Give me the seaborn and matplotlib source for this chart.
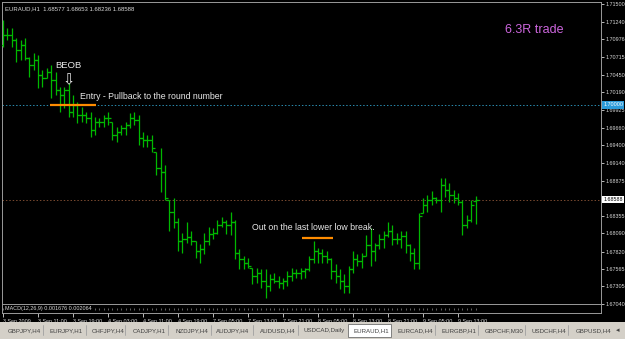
import numpy as np
import pandas as pd
import matplotlib
matplotlib.use("Agg")
import matplotlib.pyplot as plt
import matplotlib.transforms as mtransforms
from matplotlib.patches import Rectangle
import seaborn as sns

# ---------------- data ----------------
ohlc_title = "EURAUD,H1  1.68577 1.68653 1.68236 1.68588"

opens = [1.70890, 1.71039, 1.71039, 1.70964, 1.70815, 1.70890, 1.70696, 1.70592, 1.70666, 1.70443,
         1.70398, 1.70487, 1.70368, 1.70219, 1.70145, 1.70219, 1.69891, 1.69996, 1.69847, 1.69847,
         1.69802, 1.69623, 1.69742, 1.69742, 1.69802, 1.69742, 1.69549, 1.69593, 1.69653, 1.69698,
         1.69802, 1.69772, 1.69504, 1.69474, 1.69474, 1.69295, 1.69057, 1.68997, 1.68580, 1.68401,
         1.68252, 1.67984, 1.68014, 1.68029, 1.67984, 1.67835, 1.67865, 1.67984, 1.68088, 1.68103,
         1.68208, 1.68252, 1.68208, 1.68252, 1.67805, 1.67716, 1.67656, 1.67582, 1.67463, 1.67507,
         1.67388, 1.67314, 1.67418, 1.67388, 1.67358, 1.67388, 1.67463, 1.67507, 1.67507, 1.67537,
         1.67567, 1.67716, 1.67835, 1.67805, 1.67761, 1.67716, 1.67537, 1.67463, 1.67388, 1.67314,
         1.67567, 1.67716, 1.67686, 1.67761, 1.67910, 1.67835, 1.67910, 1.68014, 1.68059, 1.68133,
         1.68014, 1.68014, 1.68044, 1.67910, 1.67805, 1.67656, 1.68386, 1.68506, 1.68580, 1.68610,
         1.68580, 1.68804, 1.68729, 1.68655, 1.68610, 1.68550, 1.68208, 1.68282, 1.68577]
highs = [1.71262, 1.71143, 1.71143, 1.70994, 1.70964, 1.70994, 1.70711, 1.70770, 1.70741, 1.70517,
         1.70547, 1.70592, 1.70487, 1.70264, 1.70264, 1.70323, 1.70145, 1.70040, 1.69966, 1.69891,
         1.69891, 1.69817, 1.69802, 1.69847, 1.69891, 1.69742, 1.69668, 1.69698, 1.69742, 1.69876,
         1.69891, 1.69847, 1.69593, 1.69549, 1.69549, 1.69295, 1.69355, 1.69102, 1.68580, 1.68610,
         1.68312, 1.68103, 1.68252, 1.68133, 1.67984, 1.67939, 1.68103, 1.68178, 1.68163, 1.68282,
         1.68327, 1.68282, 1.68401, 1.68282, 1.67865, 1.67761, 1.67731, 1.67582, 1.67582, 1.67567,
         1.67567, 1.67492, 1.67507, 1.67463, 1.67433, 1.67537, 1.67582, 1.67567, 1.67582, 1.67582,
         1.67761, 1.67984, 1.67880, 1.67865, 1.67835, 1.67731, 1.67641, 1.67567, 1.67492, 1.67612,
         1.67835, 1.67790, 1.67805, 1.68059, 1.68163, 1.67954, 1.68088, 1.68133, 1.68252, 1.68208,
         1.68103, 1.68133, 1.68133, 1.67939, 1.67880, 1.68386, 1.68610, 1.68655, 1.68714, 1.68625,
         1.68908, 1.68908, 1.68833, 1.68729, 1.68684, 1.68580, 1.68357, 1.68580, 1.68653]
lows = [1.70860, 1.70964, 1.70860, 1.70636, 1.70666, 1.70666, 1.70413, 1.70517, 1.70249, 1.70264,
        1.70398, 1.70100, 1.70145, 1.69891, 1.69951, 1.69817, 1.69817, 1.69727, 1.69742, 1.69727,
        1.69519, 1.69549, 1.69668, 1.69668, 1.69698, 1.69474, 1.69444, 1.69549, 1.69549, 1.69653,
        1.69698, 1.69400, 1.69370, 1.69370, 1.69295, 1.68953, 1.68699, 1.68580, 1.68133, 1.68163,
        1.67835, 1.67805, 1.67954, 1.67910, 1.67731, 1.67656, 1.67790, 1.67910, 1.68014, 1.68088,
        1.68178, 1.68088, 1.68059, 1.67716, 1.67567, 1.67567, 1.67582, 1.67343, 1.67358, 1.67284,
        1.67135, 1.67239, 1.67358, 1.67284, 1.67269, 1.67314, 1.67388, 1.67433, 1.67418, 1.67433,
        1.67537, 1.67656, 1.67656, 1.67656, 1.67656, 1.67418, 1.67358, 1.67269, 1.67209, 1.67209,
        1.67507, 1.67612, 1.67582, 1.67761, 1.67612, 1.67686, 1.67865, 1.67880, 1.68029, 1.67910,
        1.67939, 1.67880, 1.67805, 1.67686, 1.67567, 1.67567, 1.68386, 1.68401, 1.68506, 1.68535,
        1.68401, 1.68625, 1.68550, 1.68535, 1.68506, 1.68059, 1.68163, 1.68252, 1.68236]
closes = [1.71039, 1.71039, 1.70964, 1.70815, 1.70890, 1.70696, 1.70592, 1.70666, 1.70443, 1.70398,
          1.70487, 1.70368, 1.70219, 1.70145, 1.70219, 1.69891, 1.69996, 1.69847, 1.69847, 1.69802,
          1.69623, 1.69742, 1.69742, 1.69802, 1.69802, 1.69549, 1.69593, 1.69653, 1.69698, 1.69802,
          1.69772, 1.69504, 1.69474, 1.69474, 1.69355, 1.69057, 1.68997, 1.68610, 1.68401, 1.68252,
          1.67984, 1.68014, 1.68029, 1.67984, 1.67835, 1.67865, 1.67984, 1.68088, 1.68103, 1.68208,
          1.68252, 1.68208, 1.68252, 1.67805, 1.67716, 1.67656, 1.67612, 1.67463, 1.67507, 1.67388,
          1.67314, 1.67418, 1.67388, 1.67358, 1.67388, 1.67463, 1.67507, 1.67507, 1.67537, 1.67567,
          1.67716, 1.67835, 1.67805, 1.67761, 1.67716, 1.67537, 1.67463, 1.67388, 1.67314, 1.67567,
          1.67716, 1.67686, 1.67761, 1.67910, 1.67835, 1.67910, 1.68014, 1.68059, 1.68133, 1.68014,
          1.68014, 1.68044, 1.67910, 1.67805, 1.67656, 1.68342, 1.68506, 1.68580, 1.68610, 1.68580,
          1.68804, 1.68729, 1.68655, 1.68610, 1.68550, 1.68208, 1.68282, 1.68506, 1.68588]

time_labels = ["3 Sep 2009", "3 Sep 11:00", "3 Sep 19:00", "4 Sep 03:00", "4 Sep 11:00",
               "4 Sep 19:00", "7 Sep 05:00", "7 Sep 13:00", "7 Sep 21:00", "8 Sep 05:00",
               "8 Sep 13:00", "8 Sep 21:00", "9 Sep 05:00", "9 Sep 13:00"]
bars_per_label = 8

price_ticks = [1.71500, 1.71240, 1.70976, 1.70715, 1.70450, 1.70190, 1.69925, 1.69660, 1.69400,
               1.69140, 1.68875, 1.68355, 1.68090, 1.67820, 1.67565, 1.67305, 1.67040]

entry_level = 1.70000
current_price = 1.68588
exit_level = 1.68024
macd_label = "MACD(12,26,9) 0.001676 0.002064"

tabs = ["GBPJPY,H4", "EURJPY,H1", "CHFJPY,H4", "CADJPY,H1", "NZDJPY,H4", "AUDJPY,H4",
        "AUDUSD,H4", "USDCAD,Daily", "EURAUD,H1", "EURCAD,H4", "EURGBP,H1", "GBPCHF,M30",
        "USDCHF,H4", "GBPUSD,H4"]
active_tab = "EURAUD,H1"

# ---------------- style ----------------
W, H = 625, 339
sns.set_theme(style="dark", rc={"axes.facecolor": "black", "figure.facecolor": "black"})
plt.rcParams["font.family"] = ["Liberation Sans", "DejaVu Sans"]

fig = plt.figure(figsize=(W / 100, H / 100), dpi=100, facecolor="black")


def fax(l, t, r, b):
    return fig.add_axes([l / W, 1 - b / H, (r - l) / W, (b - t) / H])


GREEN = "#00B800"
FG = "#D8D8D8"
GRID = "#9A9A9A"

df = pd.DataFrame({"bar": np.arange(len(closes)), "open": opens, "high": highs,
                   "low": lows, "close": closes})

px_per_bar = 4.375
xlim = ((2 - 3) / px_per_bar, (601 - 3) / px_per_bar)

# ---------------- main chart ----------------
ax = fax(2, 2, 601, 304)
ax.set_facecolor("black")
ax.set_xlim(*xlim)
ax.set_ylim(1.67043, 1.71531)

ax.vlines(df["bar"], df["low"], df["high"], color=GREEN, lw=0.9, zorder=3)
sns.scatterplot(data=df, x="bar", y="open", marker=0, s=4, color=GREEN,
                linewidth=0.9, ax=ax, zorder=3, legend=False)
sns.scatterplot(data=df, x="bar", y="close", marker=1, s=4, color=GREEN,
                linewidth=0.9, ax=ax, zorder=3, legend=False)

ax.axhline(entry_level, color="#2A8CB0", lw=0.7, ls=(0, (1.5, 2)), zorder=2)
ax.axhline(current_price, color="#7A4A30", lw=0.7, ls=(0, (1.5, 2)), zorder=2)

ax.set_xlabel("")
ax.set_ylabel("")
ax.set_xticks([])
ax.set_yticks(price_ticks)
ax.set_yticklabels([f"{p:.5f}" for p in price_ticks])
ax.yaxis.tick_right()
ax.tick_params(axis="y", which="both", right=True, left=False, labelright=True,
               labelleft=False, length=2, width=0.6, pad=1.2, colors=FG, labelsize=3.9)
for s in ax.spines.values():
    s.set_visible(True)
    s.set_color(GRID)
    s.set_linewidth(0.7)

# price highlight boxes on the right axis
blend = mtransforms.blended_transform_factory(ax.transAxes, ax.transData)
ax.text(1.0035, entry_level, f"{entry_level:.5f}", transform=blend, fontsize=3.9,
        color="white", va="center", ha="left", clip_on=False, zorder=10,
        bbox=dict(boxstyle="square,pad=0.2", fc="#2C9AD8", ec="none"))
ax.text(1.0035, current_price, f"{current_price:.5f}", transform=blend, fontsize=3.9,
        color="black", va="center", ha="left", clip_on=False, zorder=10,
        bbox=dict(boxstyle="square,pad=0.2", fc="white", ec="none"))

# title
ax.text(0.005, 0.985, ohlc_title, transform=ax.transAxes, fontsize=4.3, color=FG,
        ha="left", va="top")

# annotations
ax.text(15, 1.70580, "BEOB", color="#E8E8E8", fontsize=6.8, ha="center", va="center")
ax.text(15, 1.70375, "\u21E9", color="#E8E8E8", fontsize=10.5, ha="center", va="center",
        family=["DejaVu Sans"])
ax.text(17.6, 1.70119, "Entry - Pullback to the round number", color="#E8E8E8",
        fontsize=6.3, ha="left", va="center")
ax.plot([10.75, 21.3], [entry_level, entry_level], color="#FF8C00", lw=1.6,
        solid_capstyle="butt", zorder=4)
ax.text(56.9, 1.68172, "Out on the last lower low break.", color="#E8E8E8",
        fontsize=6.3, ha="left", va="center")
ax.plot([68.3, 75.4], [exit_level, exit_level], color="#FF8C00", lw=1.6,
        solid_capstyle="butt", zorder=4)
ax.text(114.7, 1.71115, "6.3R trade", color="#CC66DD", fontsize=9, ha="left",
        va="center")

# ---------------- MACD strip + time axis ----------------
axm = fax(2, 304, 601, 313)
axm.set_facecolor("black")
axm.set_xlim(*xlim)
axm.set_ylim(0, 1)
axm.vlines(df["bar"], 0.35, 0.6, color="#8C8C8C", lw=0.5)
axm.text(0.005, 0.45, macd_label, transform=axm.transAxes, fontsize=3.9, color=FG,
         ha="left", va="center",
         bbox=dict(boxstyle="square,pad=0.05", fc="black", ec="none"))
axm.set_yticks([])
tick_pos = df["bar"].iloc[::bars_per_label].values[:len(time_labels)]
axm.set_xticks(tick_pos)
axm.set_xticklabels(time_labels, ha="left")
axm.tick_params(axis="x", bottom=True, length=3, width=0.6, pad=1.5, colors=FG,
                labelsize=3.9, direction="out")
for s in axm.spines.values():
    s.set_visible(True)
    s.set_color(GRID)
    s.set_linewidth(0.7)

# ---------------- tab strip ----------------
axt = fax(0, 322, 625, 339)
axt.set_xlim(0, W)
axt.set_ylim(339, 322)
axt.set_facecolor("#D4D0C8")
axt.set_xticks([])
axt.set_yticks([])
for s in axt.spines.values():
    s.set_visible(False)
tab_x = [8, 50, 92, 133, 175, 216, 260, 303, 353, 397, 442, 485, 531, 576]
sep_x = [43, 86, 125, 168, 211, 253, 298, 435, 478, 525, 568]
for sx in sep_x:
    axt.plot([sx, sx], [325, 335], color="#A0A0A0", lw=0.6)
for name, tx in zip(tabs, tab_x):
    if name == active_tab:
        axt.add_patch(Rectangle((348, 323.5), 43, 13, fc="white", ec="#707070", lw=0.6))
    axt.text(tx, 330.5, name, fontsize=4.4, color="#404040", ha="left", va="center")
axt.text(618, 330.5, "\u25C2", fontsize=5, color="#404040", ha="center", va="center",
         family=["DejaVu Sans"])

fig.savefig("out.png", dpi=100, facecolor="black")
